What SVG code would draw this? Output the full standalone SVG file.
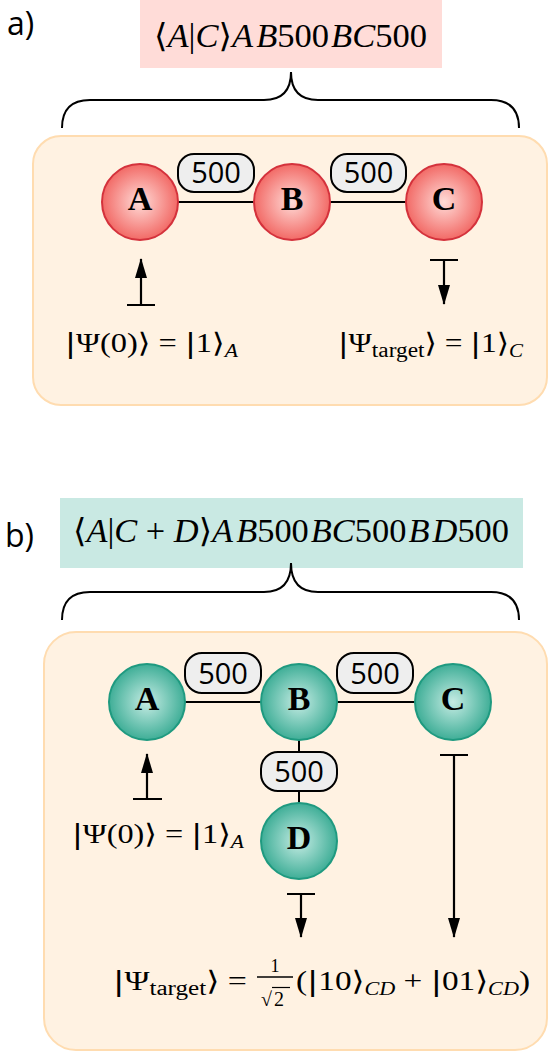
<svg xmlns="http://www.w3.org/2000/svg" width="549" height="1052" viewBox="0 0 549 1052">
<style>
.lbl{font-family:"Open Sans","Liberation Sans",sans-serif;fill:#000}
.math{font-family:"Liberation Serif","DejaVu Serif",serif;fill:#000}
.bar{font-family:"DejaVu Sans",sans-serif;font-style:normal}
.it{font-style:italic}
.node{font-family:"Liberation Serif",serif;font-weight:bold;font-size:34px;text-anchor:middle}
.edge{stroke:#000;stroke-width:2;fill:none}
.ebox{fill:#eeeeee;stroke:#000;stroke-width:2}
.etxt{font-family:"Open Sans","Liberation Sans",sans-serif;font-size:29px;text-anchor:middle}
.frame{fill:#fff2e2;stroke:#ffdcb0;stroke-width:2}
.brace{fill:none;stroke:#000;stroke-width:2}
.arr{stroke:#000;stroke-width:2.2;fill:none}
.red{fill:url(#gr);stroke:#d4323c;stroke-width:2}
.teal{fill:url(#gt);stroke:#1f9a80;stroke-width:2}
</style>
<defs>
<radialGradient id="gr" cx="50%" cy="50%" r="50%">
<stop offset="0" stop-color="#ffdcd8"/>
<stop offset="1" stop-color="#f26a66"/>
</radialGradient>
<radialGradient id="gt" cx="50%" cy="50%" r="50%">
<stop offset="0" stop-color="#c6ece4"/>
<stop offset="1" stop-color="#3fae97"/>
</radialGradient>
<marker id="ah" viewBox="0 0 20 12" refX="19" refY="6" markerWidth="20" markerHeight="12" markerUnits="userSpaceOnUse" orient="auto">
<path d="M0,0 L20,6 L0,12 Z" fill="#000"/>
</marker>
</defs>

<!-- Part a -->
<g id="panel-a">
<text x="7" y="35" class="lbl" font-size="32">a)</text>
<rect x="140" y="0" width="302" height="68" fill="#ffdcd8"/>
<text x="154" y="47" class="math" font-size="33" textLength="273" lengthAdjust="spacingAndGlyphs">⟨<tspan class="it">A</tspan>|<tspan class="it">C</tspan>⟩<tspan class="it">A</tspan><tspan class="it" dx="3">B</tspan>500<tspan class="it" dx="2">BC</tspan>500</text>
<path class="brace" d="M62,128 Q62,100 90,100 L264,100 Q291,100 291,72 Q291,100 318,100 L491,100 Q519,100 519,128"/>
<rect class="frame" x="33" y="136" width="514" height="269" rx="28"/>
</g>

<g id="connectors-a">
<line class="edge" x1="178" y1="202" x2="254" y2="202"/>
<line class="edge" x1="330" y1="202" x2="406" y2="202"/>
<path class="arr" d="M127,305 L155,305 M141,305 L141,259" marker-end="url(#ah)"/>
<path class="arr" d="M430,260 L458,260 M444,260 L444,304" marker-end="url(#ah)"/>
</g>

<g id="a-lbl-AB"><rect class="ebox" x="178" y="154" width="76" height="38" rx="16"/><text class="etxt" x="216" y="183">500</text></g>
<g id="a-lbl-BC"><rect class="ebox" x="331" y="154" width="75" height="38" rx="16"/><text class="etxt" x="368.5" y="183">500</text></g>

<g id="a-node-A"><circle class="red" cx="140" cy="202" r="38"/><text class="node" x="140" y="210">A</text></g>
<g id="a-node-B"><circle class="red" cx="292" cy="202" r="38"/><text class="node" x="292" y="210">B</text></g>
<g id="a-node-C"><circle class="red" cx="444" cy="202" r="38"/><text class="node" x="444" y="210">C</text></g>

<g id="a-init">
<text x="65" y="352" class="math" font-size="27" textLength="173" lengthAdjust="spacingAndGlyphs"><tspan class="bar">|</tspan>Ψ(0)⟩ = <tspan class="bar">|</tspan>1⟩<tspan class="it" font-size="18" dy="5">A</tspan></text>
</g>
<g id="a-target">
<text x="338" y="352" class="math" font-size="27" textLength="185" lengthAdjust="spacingAndGlyphs"><tspan class="bar">|</tspan>Ψ<tspan font-size="20" dy="5">target</tspan><tspan dy="-5">⟩ = </tspan><tspan class="bar">|</tspan>1⟩<tspan class="it" font-size="18" dy="5">C</tspan></text>
</g>

<!-- Part b -->
<g id="panel-b">
<text x="5" y="547" class="lbl" font-size="32">b)</text>
<rect x="60" y="498" width="463" height="70" fill="#c9e9e3"/>
<text x="73" y="542" class="math" font-size="33" textLength="436" lengthAdjust="spacingAndGlyphs">⟨<tspan class="it">A</tspan>|<tspan class="it">C</tspan> + <tspan class="it">D</tspan>⟩<tspan class="it">A</tspan><tspan class="it" dx="3">B</tspan>500<tspan class="it" dx="2">BC</tspan>500<tspan class="it" dx="2">B</tspan><tspan class="it" dx="3">D</tspan>500</text>
<path class="brace" d="M62,620 Q62,592 90,592 L264,592 Q291,592 291,563 Q291,592 318,592 L491,592 Q519,592 519,620"/>
<rect class="frame" x="44" y="632" width="503" height="418" rx="32"/>
</g>

<g id="connectors-b">
<line class="edge" x1="185" y1="702" x2="261" y2="702"/>
<line class="edge" x1="337" y1="702" x2="415" y2="702"/>
<line class="edge" x1="299" y1="740" x2="299" y2="803"/>
<path class="arr" d="M133,799 L162,799 M147,799 L147,754" marker-end="url(#ah)"/>
<path class="arr" d="M440,755 L468,755 M454,755 L454,937" marker-end="url(#ah)"/>
<path class="arr" d="M287,894 L315,894 M301,894 L301,937" marker-end="url(#ah)"/>
</g>

<g id="b-lbl-AB"><rect class="ebox" x="185" y="653" width="76" height="40" rx="17"/><text class="etxt" x="223" y="684">500</text></g>
<g id="b-lbl-BC"><rect class="ebox" x="337" y="653" width="76" height="40" rx="17"/><text class="etxt" x="375" y="684">500</text></g>
<g id="b-lbl-BD"><rect class="ebox" x="261" y="752" width="76" height="39" rx="17"/><text class="etxt" x="299" y="782">500</text></g>

<g id="b-node-A"><circle class="teal" cx="147" cy="702" r="38"/><text class="node" x="147" y="710">A</text></g>
<g id="b-node-B"><circle class="teal" cx="299" cy="702" r="38"/><text class="node" x="299" y="710">B</text></g>
<g id="b-node-C"><circle class="teal" cx="453" cy="702" r="38"/><text class="node" x="453" y="710">C</text></g>
<g id="b-node-D"><circle class="teal" cx="299" cy="841" r="38"/><text class="node" x="299" y="849">D</text></g>

<g id="b-init">
<text x="72" y="843" class="math" font-size="27" textLength="172" lengthAdjust="spacingAndGlyphs"><tspan class="bar">|</tspan>Ψ(0)⟩ = <tspan class="bar">|</tspan>1⟩<tspan class="it" font-size="18" dy="5">A</tspan></text>
</g>
<g id="b-target">
<text x="113" y="990" class="math" font-size="27" textLength="134" lengthAdjust="spacingAndGlyphs"><tspan class="bar">|</tspan>Ψ<tspan font-size="20" dy="5">target</tspan><tspan dy="-5">⟩ =</tspan></text>
<text x="275" y="972" class="math" font-size="18" text-anchor="middle">1</text>
<line x1="257" y1="977" x2="293" y2="977" stroke="#000" stroke-width="1.3"/>
<text x="261" y="1006" class="math" font-size="20">√</text>
<line x1="272" y1="987.5" x2="290" y2="987.5" stroke="#000" stroke-width="1.2"/>
<text x="274" y="1006" class="math" font-size="20">2</text>
<text x="296" y="990" class="math" font-size="27" textLength="234" lengthAdjust="spacingAndGlyphs">(<tspan class="bar">|</tspan>10⟩<tspan class="it" font-size="18" dy="5">CD</tspan><tspan dy="-5"> + </tspan><tspan class="bar">|</tspan>01⟩<tspan class="it" font-size="18" dy="5">CD</tspan><tspan dy="-5">)</tspan></text>
</g>
</svg>
